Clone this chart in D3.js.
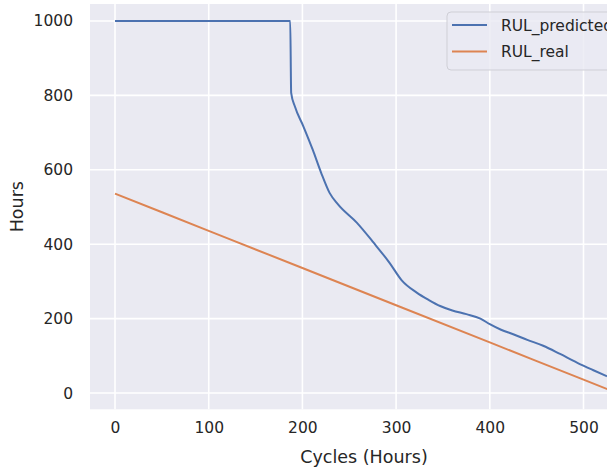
<!DOCTYPE html>
<html>
<head>
<meta charset="utf-8">
<script src="https://cdn.jsdelivr.net/npm/d3@7"></script>
<style>
  body { margin: 0; background: #fff; }
  svg { display: block; font-family: "DejaVu Sans", sans-serif; }
  .tick text { fill: #262626; }
</style>
</head>
<body>
<div id="chart"></div>
<script>
// data
var predX = [0, 187, 188, 192, 201, 211, 220, 229, 238, 258, 276, 293, 306, 322, 335, 347, 360, 375, 390, 400, 412, 425, 440, 457, 475, 493, 510, 525];
var predY = [1000, 1000, 807, 770, 717, 654, 592, 538, 507, 458, 404, 350, 303, 270, 250, 234, 222, 212, 200, 185, 170, 158, 143, 127, 105, 82, 62, 45];
var realX = [0, 100, 200, 300, 400, 500, 536];
var realY = [536, 436, 336, 236, 136, 36, 0];
var xTicks = [0, 100, 200, 300, 400, 500];
var yTicks = [0, 200, 400, 600, 800, 1000];
var seriesNames = ["RUL_predicted", "RUL_real"];
var colors = ["#4C72B0", "#DD8452"];

// set the dimensions and margins of the graph
var W = 607, H = 473;
var plotLeft = 90, plotTop = 4, plotW = 550, plotH = 405.3;

var x = d3.scaleLinear().domain([-26.7, 560.3]).range([plotLeft, plotLeft + plotW]);
var y = d3.scaleLinear().domain([-43.7, 1045.6]).range([plotTop + plotH, plotTop]);

var svg = d3.select("#chart").append("svg")
    .attr("width", W)
    .attr("height", H);

// grey background of the axes
svg.append("rect")
    .attr("x", plotLeft).attr("y", plotTop)
    .attr("width", plotW).attr("height", plotH)
    .attr("fill", "#EAEAF2");

// white grid
svg.append("g").selectAll("line").data(xTicks).enter().append("line")
    .attr("x1", d => x(d)).attr("x2", d => x(d))
    .attr("y1", plotTop).attr("y2", plotTop + plotH)
    .attr("stroke", "#fff").attr("stroke-width", 1.6);
svg.append("g").selectAll("line").data(yTicks).enter().append("line")
    .attr("x1", plotLeft).attr("x2", plotLeft + plotW)
    .attr("y1", d => y(d)).attr("y2", d => y(d))
    .attr("stroke", "#fff").attr("stroke-width", 1.6);

// axes (labels only, seaborn style)
var xAxis = svg.append("g")
    .attr("transform", "translate(0," + (plotTop + plotH) + ")")
    .call(d3.axisBottom(x).tickValues(xTicks).tickFormat(d3.format("d")).tickSize(0).tickPadding(13));
var yAxis = svg.append("g")
    .attr("transform", "translate(" + plotLeft + ",0)")
    .call(d3.axisLeft(y).tickValues(yTicks).tickFormat(d3.format("d")).tickSize(0).tickPadding(17));
[xAxis, yAxis].forEach(function (g) {
    g.select(".domain").remove();
    g.selectAll("text").style("font-size", "15.5px").style("font-family", "DejaVu Sans");
});

// the lines
var line = d3.line()
    .x(d => x(d[0]))
    .y(d => y(d[1]))
    .curve(d3.curveMonotoneX);

var predData = predX.map((v, i) => [v, predY[i]]);
var realData = realX.map((v, i) => [v, realY[i]]);

svg.append("path").datum(predData)
    .attr("d", line)
    .attr("fill", "none").attr("stroke", colors[0]).attr("stroke-width", 2);
svg.append("path").datum(realData)
    .attr("d", line)
    .attr("fill", "none").attr("stroke", colors[1]).attr("stroke-width", 2);

// axis titles
svg.append("text")
    .attr("x", 364).attr("y", 463)
    .attr("text-anchor", "middle")
    .style("font-size", "17.5px").attr("fill", "#262626")
    .text("Cycles (Hours)");
svg.append("text")
    .attr("transform", "translate(23," + (plotTop + plotH / 2) + ") rotate(-90)")
    .attr("text-anchor", "middle")
    .style("font-size", "17.5px").attr("fill", "#262626")
    .text("Hours");

// legend
var lg = svg.append("g");
lg.append("rect")
    .attr("x", 447).attr("y", 12)
    .attr("width", 200).attr("height", 58)
    .attr("rx", 4)
    .attr("fill", "#EAEAF2").attr("fill-opacity", 0.8)
    .attr("stroke", "#cfcfd6").attr("stroke-width", 1);
seriesNames.forEach(function (name, i) {
    var ly = 25 + i * 26.5;
    lg.append("line")
        .attr("x1", 452).attr("x2", 487)
        .attr("y1", ly).attr("y2", ly)
        .attr("stroke", colors[i]).attr("stroke-width", 2);
    lg.append("text")
        .attr("x", 501).attr("y", ly + 5.5)
        .style("font-size", "15.5px").attr("fill", "#262626")
        .text(name);
});
</script>
</body>
</html>
